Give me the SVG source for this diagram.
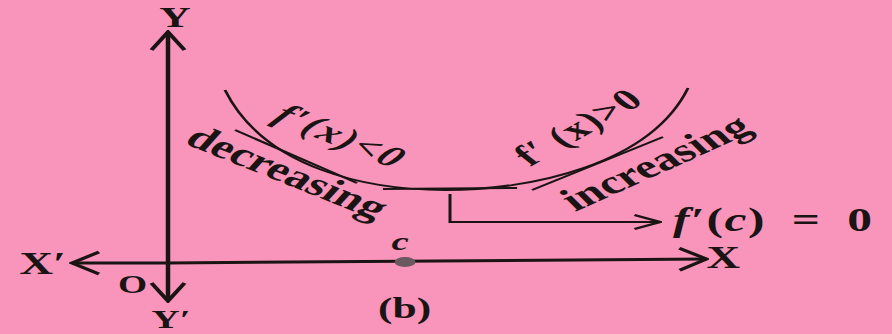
<svg xmlns="http://www.w3.org/2000/svg" width="892" height="334" viewBox="0 0 892 334">
<defs>
<style>
.ax{stroke:#1a1414;stroke-width:3;fill:none}
.ln{stroke:#1a1414;stroke-width:2;fill:none}
.t{font-family:"Liberation Serif",serif;font-weight:bold;fill:#1a1414}
.i{font-style:italic}
</style>
<marker id="ah" viewBox="0 0 20 20" refX="19" refY="10" markerWidth="20" markerHeight="20" markerUnits="userSpaceOnUse" orient="auto">
<path d="M2,3 L19,10 L2,17" fill="none" stroke="#1a1414" stroke-width="2.4"/>
</marker>
<marker id="ah2" viewBox="0 0 24 28" refX="22" refY="14" markerWidth="24" markerHeight="28" markerUnits="userSpaceOnUse" orient="auto">
<path d="M4,3 L22,14 L4,25" fill="none" stroke="#1a1414" stroke-width="3"/>
</marker>
</defs>
<rect width="892" height="334" fill="#f994ba"/>
<g transform="scale(1.5,1)">
<g id="connectors">
<line id="y-axis-up" class="ax" x1="112" y1="262" x2="112" y2="32" marker-end="url(#ah2)"/>
<line id="y-axis-down" class="ax" x1="112" y1="262" x2="112" y2="301" marker-end="url(#ah2)"/>
<line id="x-axis-left" class="ax" x1="112" y1="263" x2="48" y2="263" marker-end="url(#ah2)"/>
<line id="x-axis-right" class="ax" x1="112" y1="263" x2="471" y2="259" marker-end="url(#ah2)"/>
<path id="curve" class="ln" d="M150,90 C176.7,170 246.7,190 296.7,190 C353.3,190 433.3,165 458.7,88"/>
<line id="tan-left" class="ln" x1="156.7" y1="130" x2="238" y2="183"/>
<line id="tan-bottom" class="ln" x1="255.3" y1="189" x2="344.7" y2="188"/>
<line id="tan-right" class="ln" x1="354.7" y1="190" x2="442" y2="137"/>
<path id="pointer" class="ln" d="M300,194 V222 H440" marker-end="url(#ah)"/>
</g>
<g id="dot-c"><ellipse cx="270" cy="262" rx="7" ry="5" fill="#6a5a60"/></g>
<g id="label-Y"><text class="t" x="116.7" y="27" font-size="29" text-anchor="middle">Y</text></g>
<g id="label-Yp"><text class="t" x="101" y="328" font-size="26">Y′</text></g>
<g id="label-Xp"><text class="t" x="13" y="274" font-size="31">X′</text></g>
<g id="label-X"><text class="t" x="471" y="268" font-size="31">X</text></g>
<g id="label-O"><text class="t" x="78.7" y="293" font-size="25">O</text></g>
<g id="label-c"><text class="t i" x="266.7" y="250" font-size="26" text-anchor="middle">c</text></g>
<g id="label-b"><text class="t" x="252" y="318" font-size="29">(b)</text></g>
<g id="label-fc"><text class="t" x="448.7" y="231" font-size="33" letter-spacing="1" word-spacing="8"><tspan class="i">f</tspan>′(<tspan class="i">c</tspan>) = 0</text></g>
<g id="label-decreasing"><text class="t" transform="translate(122,143) rotate(31)" font-size="33">decreasing</text></g>
<g id="label-increasing"><text class="t" transform="translate(383.3,212) rotate(-34)" font-size="33">increasing</text></g>
<g id="label-fneg"><text class="t i" transform="translate(181,120) rotate(31)" font-size="30" letter-spacing="1.5">f′(x)&lt;0</text></g>
<g id="label-fpos"><text class="t" transform="translate(353.3,167) rotate(-40)" font-size="30" letter-spacing="1">f′ (x)&gt;0</text></g>
</g>
</svg>
